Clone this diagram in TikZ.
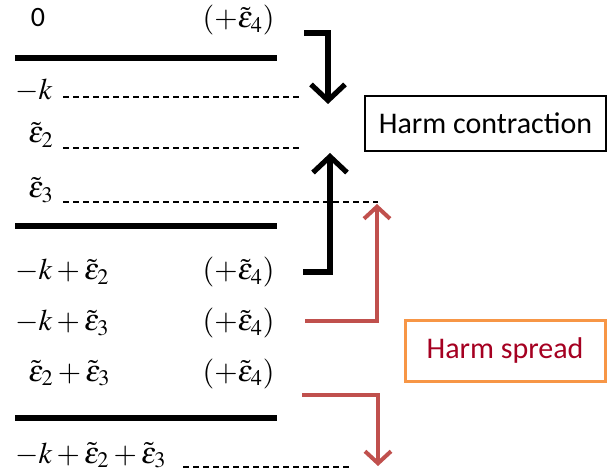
\documentclass[tikz,border=0pt]{standalone}
\usepackage{mathptmx}
\usepackage[no-math]{fontspec}
\setmainfont{Carlito}
\usepackage{xcolor}
\usepackage{tikz}
\usetikzlibrary{arrows.meta}
\definecolor{spreadred}{RGB}{192,80,77}
\definecolor{spreadtxt}{RGB}{165,0,33}
\definecolor{spreadbox}{RGB}{247,150,70}
\newcommand{\teps}[1]{\tilde{\varepsilon}_{#1}}

\begin{document}
\begin{tikzpicture}[
  x=0.5pt, y=-0.5pt,
  font=\fontsize{15}{18}\selectfont,
  lbl/.style={anchor=base west, inner sep=0pt},
  epsr/.style={anchor=base east, inner sep=0pt},
  rule/.style={line width=3pt},
  guide/.style={dash pattern=on 3pt off 2pt, line width=0.7pt},
  tag/.style={draw, line width=0.6pt, inner sep=0pt, minimum height=27.5pt,
              font=\fontsize{15}{18}\selectfont},
  blk/.style={-{Straight Barb[length=8pt,width=17pt]}, line width=2.6pt},
  spr/.style={-{Straight Barb[length=6pt,width=13pt]}, line width=2pt, draw=spreadred}
]
\useasboundingbox (0,0) rectangle (608,474);
% levels
\node[anchor=base, inner sep=0pt, font=\fontsize{14}{16}\selectfont] (zero) at (38,27) {0};
\node[epsr] (ea) at (275,28) {$(+\teps{4})$};
\draw[rule] (15,58) -- (277,58);
\node[lbl] (mk) at (15,100) {$-k$};
\node[lbl] (e2) at (28,143) {$\teps{2}$};
\node[lbl] (e3) at (28,198) {$\teps{3}$};
\draw[guide] (63,97) -- (300,97);
\draw[guide] (63,148) -- (300,148);
\draw[guide] (63,202) -- (378,202);
\draw[rule] (15,226) -- (277,226);
\node[lbl] (mke2) at (15,280) {$-k+\teps{2}$};
\node[epsr] (eb) at (275,280) {$(+\teps{4})$};
\node[lbl] (mke3) at (15,331) {$-k+\teps{3}$};
\node[epsr] (ec) at (275,331) {$(+\teps{4})$};
\node[lbl] (e2e3) at (28,381) {$\teps{2}+\teps{3}$};
\node[epsr] (ed) at (275,381) {$(+\teps{4})$};
\draw[rule] (15,418) -- (277,418);
\node[lbl] (all) at (15,463) {$-k+\teps{2}+\teps{3}$};
\draw[guide] (183,467) -- (350,467);
% labels
\node[tag, minimum width=120.5pt] (con) at (485.5,123.5) {Harm contraction};
\node[tag, minimum width=100pt, minimum height=30pt, draw=spreadbox,
      line width=1.5pt, text=spreadtxt] (spd) at (505,351) {Harm spread};
% arrows
\coordinate (c1) at (304,33);
\coordinate (c1t) at (328,104);
\coordinate (c2) at (303,272);
\coordinate (c2t) at (330,153);
\coordinate (s1) at (305,321);
\coordinate (s1t) at (377,204);
\coordinate (s2) at (302,395);
\coordinate (s2t) at (378,466);
\draw[blk] (c1) -| (c1t);
\draw[blk] (c2) -| (c2t);
\draw[spr] (s1) -| (s1t);
\draw[spr] (s2) -| (s2t);
\end{tikzpicture}
\end{document}
